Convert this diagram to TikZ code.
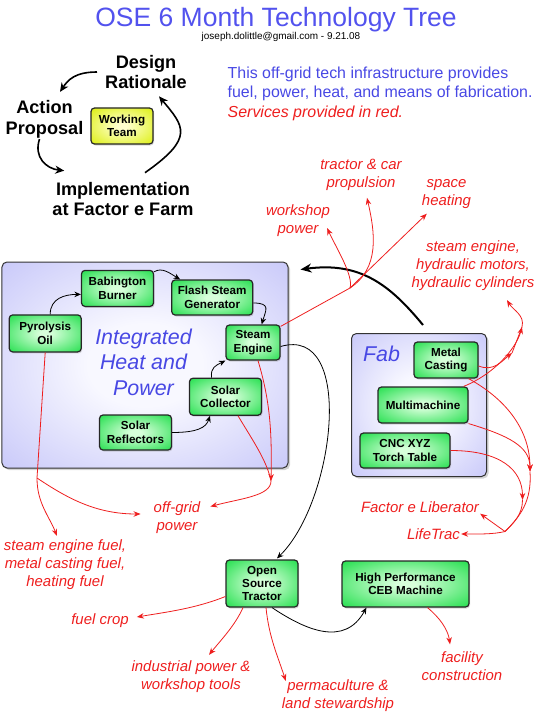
\documentclass[tikz,border=0pt]{standalone}
\usepackage{fontspec}
\setmainfont{Liberation Sans}
\usetikzlibrary{calc,arrows.meta,shadows}

\definecolor{titleblue}{RGB}{82,82,238}
\definecolor{noteblue}{RGB}{72,72,228}
\definecolor{servicered}{RGB}{238,30,30}
\definecolor{techgreen}{RGB}{45,225,85}
\definecolor{techlight}{RGB}{215,255,218}
\definecolor{panelblue}{RGB}{175,175,246}
\definecolor{panellight}{RGB}{248,248,255}
\definecolor{teamyellow}{RGB}{222,240,25}
\definecolor{teamlight}{RGB}{255,255,205}

\pgfdeclareradialshading{techglow}{\pgfpointorigin}{color(0bp)=(techlight); color(4bp)=(techlight); color(34bp)=(techgreen); color(100bp)=(techgreen)}
\pgfdeclareradialshading{teamglow}{\pgfpointorigin}{color(0bp)=(teamlight); color(4bp)=(teamlight); color(34bp)=(teamyellow); color(100bp)=(teamyellow)}
\pgfdeclareradialshading{panelglow}{\pgfpointorigin}{color(0bp)=(panellight); color(10bp)=(panellight); color(50bp)=(panelblue); color(100bp)=(panelblue)}

\tikzset{
  tech/.style={draw=black!85, line width=1.2bp, rounded corners=3.5bp,
    shade, shading=techglow,
    drop shadow={opacity=0.3, shadow xshift=1bp, shadow yshift=-1.5bp},
    align=center, inner sep=2bp,
    font=\fontsize{11.7}{13.5}\selectfont\bfseries},
  panel/.style={draw=black!80, line width=1bp, rounded corners=5bp,
    shade, shading=panelglow,
    drop shadow={opacity=0.35, shadow xshift=2bp, shadow yshift=-2bp}},
  stage/.style={align=center, inner sep=1bp,
    font=\fontsize{18.2}{21}\selectfont\bfseries},
  service/.style={text=servicered, align=center, inner sep=1bp,
    font=\fontsize{15}{18}\selectfont\itshape},
  teamloop/.style={draw, line width=1.6bp, -{Stealth[length=9bp,width=8bp]}},
  feed/.style={draw, line width=0.8bp, -{Stealth[length=6.5bp,width=5.5bp]}},
  svc/.style={draw=servicered, line width=0.8bp, -{Stealth[length=7bp,width=5.5bp]}},
  svcline/.style={draw=servicered, line width=0.8bp}
}

\begin{document}
\begin{tikzpicture}[x=1bp, y=-1bp]
  \useasboundingbox (0,0) rectangle (540,720);

  % header
  \node[text=titleblue, font=\fontsize{26.6}{30}\selectfont] (title) at (276,20) {OSE 6 Month Technology Tree};
  \node[font=\fontsize{10}{12}\selectfont] (mail) at (281,37) {joseph.dolittle@gmail.com - 9.21.08};
  \node[anchor=north west, inner sep=0, align=left, text=noteblue,
        font=\fontsize{16}{19.5}\selectfont] (note) at (227.5,66.5)
    {This off-grid tech infrastructure provides\\
     fuel, power, heat, and means of fabrication.\\
     \textcolor{servicered}{\itshape Services provided in red.}};

  % working team cycle
  \node[stage] (dr) at (146,72) {Design\\Rationale};
  \node[stage] (ap) at (44.5,119) {Action\\Proposal};
  \node[stage] (imp) at (123,199) {Implementation\\at Factor e Farm};
  \node[tech, shading=teamglow, minimum width=62bp, minimum height=36bp] (team) at (122,126) {Working\\Team};
  \draw[teamloop] ($(dr.west)+(-7,0)$) .. controls +(-22,0) and +(8,-12) .. ($(ap.north)+(15.5,-7)$);
  \draw[teamloop] ($(ap.south)+(-5,0)$) .. controls +(-6,18) and +(-18,-2) .. ($(imp.north west)+(13,-10)$);
  \draw[teamloop] ($(imp.north)+(22,-8)$) .. controls +(50,-35) and +(25,30) .. ($(dr.south)+(13,6)$);

  % panels
  \node[panel, minimum width=286bp, minimum height=206bp] (ihp) at (145,365) {};
  \node[text=noteblue, align=center, font=\fontsize{21.5}{25.5}\selectfont\itshape]
    (ihplabel) at (143.5,362) {Integrated\\Heat and\\Power};
  \node[panel, minimum width=135bp, minimum height=143bp] (fab) at (419,405) {};
  \node[text=noteblue, font=\fontsize{21.5}{25}\selectfont\itshape] (fablabel) at (381.5,354) {Fab};

  % technologies
  \node[tech, minimum width=72bp, minimum height=37bp] (po) at (45.2,333.4) {Pyrolysis\\Oil};
  \node[tech, minimum width=72bp, minimum height=36bp] (bb) at (117.5,288.4) {Babington\\Burner};
  \node[tech, minimum width=81bp, minimum height=35bp] (fsg) at (212.2,297.5) {Flash Steam\\Generator};
  \node[tech, minimum width=54bp, minimum height=35bp] (se) at (253,342.5) {Steam\\Engine};
  \node[tech, minimum width=72bp, minimum height=37bp] (sc) at (225.5,396.7) {Solar\\Collector};
  \node[tech, minimum width=72bp, minimum height=35bp] (sr) at (135.5,432.5) {Solar\\Reflectors};
  \node[tech, minimum width=64bp, minimum height=36bp] (mc) at (446,360) {Metal\\Casting};
  \node[tech, minimum width=90bp, minimum height=36bp] (mm) at (423,405) {Multimachine};
  \node[tech, minimum width=90bp, minimum height=35bp] (cnc) at (405,450.5) {CNC XYZ\\Torch Table};
  \node[tech, minimum width=72bp, minimum height=47bp] (ost) at (262,583.5) {Open\\Source\\Tractor};
  \node[tech, minimum width=127bp, minimum height=46bp] (ceb) at (405.5,584) {High Performance\\CEB Machine};

  % services
  \node[service] (prop) at (361,175) {tractor \& car\\propulsion};
  \node[service] (heat) at (446.5,194) {space\\heating};
  \node[service] (work) at (298,221) {workshop\\power};
  \node[service] (hyd) at (473,266) {steam engine,\\hydraulic motors,\\hydraulic cylinders};
  \node[service] (fel) at (420,507) {Factor e Liberator};
  \node[service] (lt) at (433.5,534) {LifeTrac};
  \node[service] (og) at (177,518) {off-grid\\power};
  \node[service] (fuel) at (65,565) {steam engine fuel,\\metal casting fuel,\\heating fuel};
  \node[service] (crop) at (100,621) {fuel crop};
  \node[service] (ind) at (191,677) {industrial power \&\\workshop tools};
  \node[service] (perm) at (338,696) {permaculture \&\\land stewardship};
  \node[service] (fac) at (462,666) {facility\\construction};

  % flow between technologies
  \draw[feed] ($(po.north)+(5,0)$) .. controls +(0,-16) and +(-16,0) .. ($(bb.west)+(0,6)$);
  \draw[feed] ($(bb.north east)+(0,2)$) .. controls +(8,-5) and +(-10,-6) .. ($(fsg.north west)+(9,0)$);
  \draw[feed] ($(fsg.east)+(0,5.5)$) .. controls +(18,0) and +(4,-14) .. ($(se.north)+(8.7,0)$);
  \draw[feed] ($(sc.north)+(-14,0)$) .. controls +(-1,-10) and +(-10,5) .. (se.south west);
  \draw[feed] (sr.east) .. controls +(25,0) and +(-4,12) .. ($(sc.south)+(-15.5,0)$);
  \draw[feed] ($(se.east)+(0,4)$) .. controls +(75,-22) and +(58,-57) .. ($(ost.north)+(15,-1)$);
  \draw[feed] ($(ost.south)+(10,0)$) .. controls +(33,22) and +(-22,40) .. ($(ceb.south west)+(25,0)$);
  \draw[feed, line width=2bp, -{Stealth[length=11bp,width=9bp]}]
    ($(fab.north)+(4,-8)$) .. controls +(-33,-40) and +(60,-8) .. ($(ihp.north east)+(12,8)$);

  % steam engine services
  \coordinate (sj) at (350,288);
  \draw[svcline] ($(se.north east)+(0,2)$) -- (sj);
  \draw[svc] (sj) -- ($(heat.south west)+(6,4)$);
  \draw[svc] (sj) .. controls +(4,-12) and +(8,18) .. ($(work.east)+(-4,7)$);
  \draw[svc] (sj) .. controls +(30,-20) and +(8,35) .. ($(prop.south)+(6,6)$);

  \coordinate (ogj) at (271,481);
  \draw[svc] ($(se.south)+(5,0)$) .. controls +(12,40) and +(1,-50) .. (ogj);
  \draw[svcline] ($(sc.south)+(12.5,0)$) .. controls +(15,25) and +(-4,-20) .. (ogj);
  \draw[svc] (ogj) .. controls +(0,15) and +(30,-8) .. ($(og.east)+(9,-11.5)$);

  \coordinate (pj) at (37,478);
  \draw[svcline] (po.south) -- (pj);
  \draw[svc] (pj) .. controls +(0,25) and +(-8,-20) .. ($(fuel.north)+(-8,-3)$);
  \draw[svc] (pj) .. controls +(30,20) and +(-45,0) .. ($(og.west)+(-12,-4)$);

  % fab services
  \coordinate (hj1) at (512,353);
  \coordinate (hj2) at (522,327);
  \draw[svc] ($(mc.east)+(0,6)$) .. controls +(15,6) and +(-10,8) .. (hj1);
  \draw[svc] ($(mm.north east)+(-5,0)$) .. controls +(30,-12) and +(-6,22) .. (hj2);
  \draw[svcline] (hj1) -- (hj2);
  \draw[svc] (hj2) .. controls +(3,-12) and +(6,10) .. ($(hyd.south)+(34,8)$);

  \coordinate (fj1) at (530,471.5);
  \coordinate (fj2) at (522.5,500);
  \coordinate (fj3) at (505,531.5);
  \draw[svc] ($(mc.south east)+(-10,0)$) .. controls +(45,25) and +(0,-35) .. (fj1);
  \draw[svc] (mm.south east) .. controls +(40,12) and +(0,-25) .. (fj1);
  \draw[svc] (cnc.east) .. controls +(50,0) and +(0,-30) .. (fj2);
  \draw[svcline] (fj1) .. controls +(2,30) and +(15,-15) .. (fj3);
  \draw[svcline] (fj2) .. controls +(0,15) and +(8,-8) .. (fj3);
  \draw[svc] (fj3) -- (fel.south east);
  \draw[svc] (fj3) .. controls +(-12,3) and +(15,0) .. (lt.east);

  % tractor and press services
  \draw[svc] ($(ost.west)+(0,13)$) .. controls +(-30,12) and +(30,-5) .. ($(crop.east)+(7,-4)$);
  \draw[svc] ($(ost.south)+(-19,0)$) .. controls +(-8,18) and +(12,-15) .. ($(ind.north)+(18,-5)$);
  \draw[svc] ($(ost.south)+(4,0)$) .. controls +(3,30) and +(-8,-25) .. ($(perm.north west)+(5,2)$);
  \draw[svc] ($(ceb.south)+(22,0)$) .. controls +(12,10) and +(-2,-15) .. ($(fac.north)+(-12,-6)$);
\end{tikzpicture}
\end{document}
